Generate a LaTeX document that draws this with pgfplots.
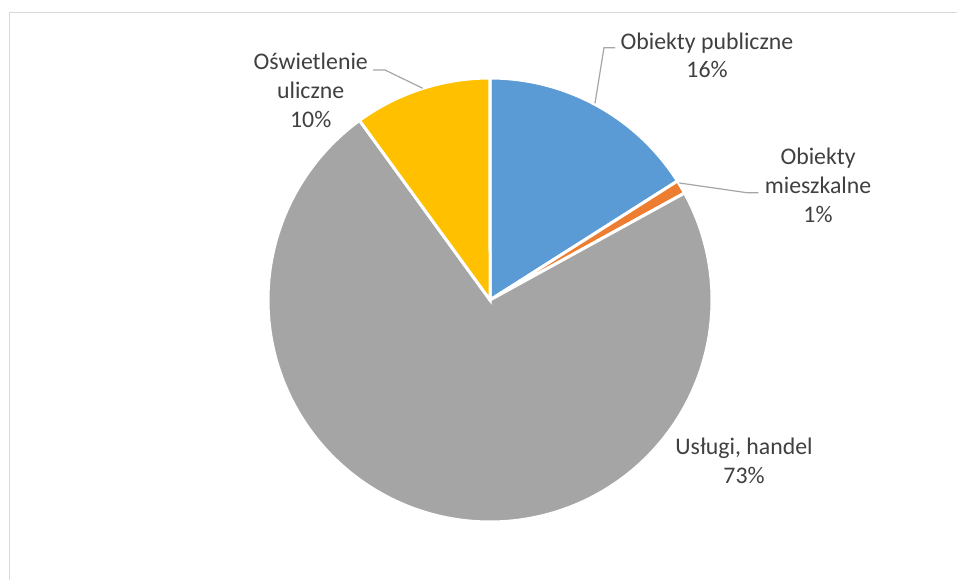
\documentclass[border=0pt]{standalone}
\usepackage{pgfplots}
\usepackage{pgfplotstable}
\pgfplotsset{compat=1.18}
\usepackage{fontspec}
\setmainfont{Carlito}
\definecolor{cblue}{HTML}{5B9BD5}
\definecolor{corange}{HTML}{ED7D31}
\definecolor{cgray}{HTML}{A5A5A5}
\definecolor{cgold}{HTML}{FFC000}
\definecolor{ctext}{HTML}{404040}
\definecolor{cleader}{HTML}{A6A6A6}
\definecolor{cborder}{HTML}{D9D9D9}

\pgfplotstableread{
name value
pub 16
mie 1
usl 73
osw 10
}\piedata

\begin{document}
\begin{tikzpicture}
\useasboundingbox (0,0) rectangle (957pt,580pt);
\fill[white] (0,0) rectangle (957pt,580pt);
\pgfplotstablegetelem{0}{value}\of\piedata \let\vA\pgfplotsretval
\pgfplotstablegetelem{1}{value}\of\piedata \let\vB\pgfplotsretval
\pgfplotstablegetelem{2}{value}\of\piedata \let\vC\pgfplotsretval
\pgfplotstablegetelem{3}{value}\of\piedata \let\vD\pgfplotsretval
\pgfmathsetmacro{\tot}{\vA+\vB+\vC+\vD}
\pgfmathsetmacro{\aA}{90-(\vA/\tot)*360}
\pgfmathsetmacro{\aB}{\aA-(\vB/\tot)*360}
\pgfmathsetmacro{\aC}{\aB-(\vC/\tot)*360}
\pgfmathsetmacro{\aD}{\aC-(\vD/\tot)*360}
\begin{axis}[
  at={(0,0)}, anchor=south west,
  x=1pt, y=1pt,
  xmin=0, xmax=957, ymin=0, ymax=580,
  hide axis, clip=false,
]
% border
\addplot[color=cborder, line width=1.5pt] coordinates {(9.5,0) (9.5,567.5) (957,567.5)};
% slices
\addplot[fill=cblue, draw=white, line width=3pt, domain=\aA:90, samples=90, variable=\t]
  ({490+222*cos(t)},{280+222*sin(t)}) -- (axis cs:490,280) -- cycle;
\addplot[fill=corange, draw=white, line width=3pt, domain=\aB:\aA, samples=10, variable=\t]
  ({490+222*cos(t)},{280+222*sin(t)}) -- (axis cs:490,280) -- cycle;
\addplot[fill=cgray, draw=white, line width=3pt, domain=\aC:\aB, samples=300, variable=\t]
  ({490+222*cos(t)},{280+222*sin(t)}) -- (axis cs:490,280) -- cycle;
\addplot[fill=cgold, draw=white, line width=3pt, domain=\aD:\aC, samples=40, variable=\t]
  ({490+222*cos(t)},{280+222*sin(t)}) -- (axis cs:490,280) -- cycle;
% leader lines
\addplot[color=cleader, line width=1.2pt] coordinates {(595,476.7) (604,532.3) (615,532.3)};
\addplot[color=cleader, line width=1.2pt] coordinates {(679.3,397) (746.7,387.3) (758.3,387.3)};
\addplot[color=cleader, line width=1.2pt] coordinates {(422.7,491.7) (385,510) (373,510)};
% labels
\begin{scope}[every node/.style={anchor=base, text=ctext, inner sep=0pt, font=\fontsize{23.8}{28}\selectfont}]
\node at (axis cs:707,530.5) {Obiekty publiczne};
\node at (axis cs:707,502.7) {16\%};
\node at (axis cs:818,415) {Obiekty};
\node at (axis cs:818,386) {mieszkalne};
\node at (axis cs:818,357.3) {1\%};
\node at (axis cs:744,125) {Usługi, handel};
\node at (axis cs:744,96) {73\%};
\node at (axis cs:310.7,510) {Oświetlenie};
\node at (axis cs:310.7,481.5) {uliczne};
\node at (axis cs:310.7,452) {10\%};
\end{scope}
\end{axis}
\end{tikzpicture}
\end{document}
